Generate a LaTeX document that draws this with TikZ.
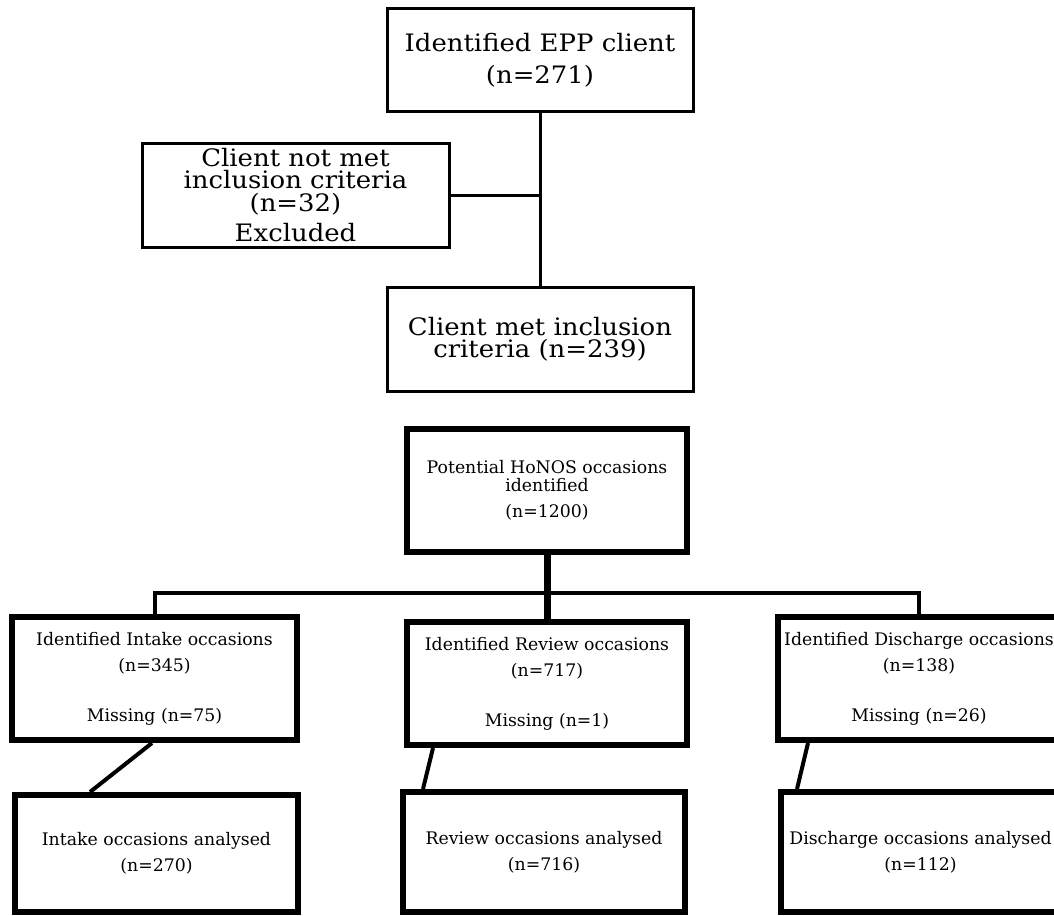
\documentclass[tikz,border=0pt]{standalone}
\usepackage{fontspec}
\setmainfont{DejaVu Serif}
\newfontfamily\topfont{DejaVu Serif}[FakeStretch=1.08]
\newfontfamily\botfont{DejaVu Serif}
\usetikzlibrary{calc}
\begin{document}
\begin{tikzpicture}[x=1pt,y=-1pt,
  thinbox/.style={draw=black,line width=3pt,inner sep=0pt,align=center,
    font=\topfont\fontsize{24}{22.5}\selectfont},
  thickbox/.style={draw=black,line width=6pt,inner sep=0pt,align=center,
    font=\botfont\fontsize{17.3}{18}\selectfont},
  thinline/.style={line width=3pt},
  busline/.style={line width=4pt,line join=miter},
  trunk/.style={line width=7pt},
  diag/.style={line width=4pt}]
\useasboundingbox[fill=white] (0,0) rectangle (1054,915);
% top part
\node[thinbox,minimum width=306pt,minimum height=103pt] (epp) at (540,60.5)
  {Identified EPP client\\[9.5pt](n=271)};
\node[thinbox,minimum width=307pt,minimum height=104pt] (notmet) at (295.5,195)
  {Client not met\\inclusion criteria\\(n=32)\\[8pt]Excluded};
\node[thinbox,minimum width=306pt,minimum height=104pt] (met) at (540,339)
  {Client met inclusion\\criteria (n=239)};
\draw[thinline] (epp.south) -- (met.north);
\draw[thinline] (notmet.east) -- (epp.south |- notmet.east);
% bottom part
\node[thickbox,minimum width=280pt,minimum height=123pt] (pot) at (547,490.5)
  {Potential HoNOS occasions\\identified\\[8pt](n=1200)};
\node[thickbox,minimum width=285pt,minimum height=123pt] (intake) at (154.5,678.5)
  {Identified Intake occasions\\[8pt](n=345)\\[32pt]Missing (n=75)};
\node[thickbox,minimum width=280pt,minimum height=123pt] (review) at (547,683.5)
  {Identified Review occasions\\[8pt](n=717)\\[32pt]Missing (n=1)};
\node[thickbox,minimum width=282pt,minimum height=123pt] (disch) at (919,678.5)
  {Identified Discharge occasions\\[8pt](n=138)\\[32pt]Missing (n=26)};
\node[thickbox,minimum width=283pt,minimum height=117pt] (aintake) at (156.5,853.5)
  {Intake occasions analysed\\[8pt](n=270)};
\node[thickbox,minimum width=282pt,minimum height=120pt] (areview) at (544,852)
  {Review occasions analysed\\[8pt](n=716)};
\node[thickbox,minimum width=279pt,minimum height=120pt] (adisch) at (920.5,852)
  {Discharge occasions analysed\\[8pt](n=112)};
\coordinate (busy) at (547,593);
\draw[busline] (intake.north) |- (busy) -| (disch.north);
\draw[trunk] (pot.south) -- (review.north);
\draw[diag] ([xshift=-2.5pt]intake.south) -- ([xshift=-66.5pt]aintake.north);
\draw[diag] ([xshift=-114pt]review.south) -- ([xshift=-121pt]areview.north);
\draw[diag] ([xshift=-111pt]disch.south) -- ([xshift=-123.5pt]adisch.north);
\end{tikzpicture}
\end{document}
